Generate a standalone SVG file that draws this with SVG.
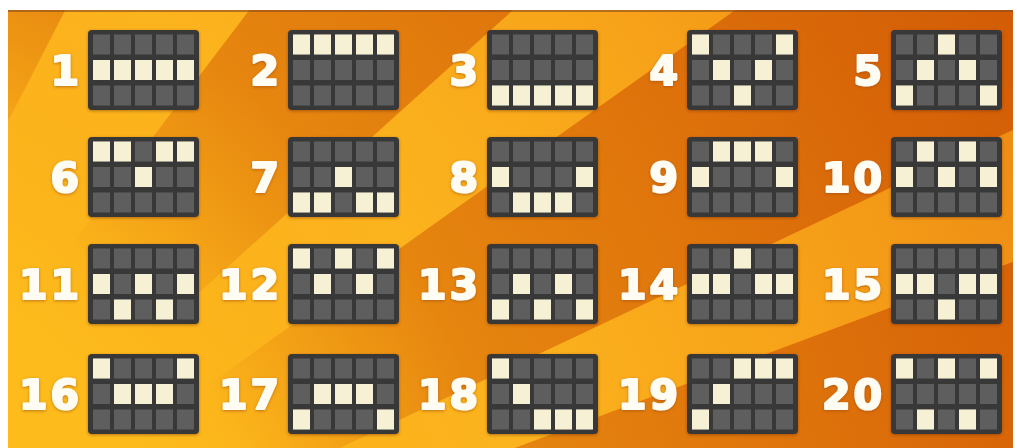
<svg xmlns="http://www.w3.org/2000/svg" xmlns:xlink="http://www.w3.org/1999/xlink" width="1017" height="448" viewBox="0 0 1017 448">
<style>
.frame{fill:#373737}
.off{fill:#5e5e5e}
.on{fill:#f6f1d4}
.num{font-family:"DejaVu Sans","Liberation Sans",sans-serif;font-weight:bold;font-size:41px;fill:#fffdf3;stroke:#fffdf3;stroke-width:2.2px;stroke-linejoin:round;text-anchor:end;letter-spacing:3px;filter:url(#glow)}
</style>
<defs>
<clipPath id="bgclip"><rect x="8" y="10" width="1005" height="438"/></clipPath>
<radialGradient id="base" gradientUnits="userSpaceOnUse" cx="-320" cy="760" r="1600">
<stop offset="0.35" stop-color="#fdbb1c"/>
<stop offset="0.55" stop-color="#f9a617"/>
<stop offset="0.75" stop-color="#f28e12"/>
<stop offset="0.95" stop-color="#e4700c"/>
</radialGradient>
<radialGradient id="darkfade" gradientUnits="userSpaceOnUse" cx="-320" cy="760" r="1600">
<stop offset="0.4" stop-color="#c24a00" stop-opacity="0"/>
<stop offset="0.55" stop-color="#c24a00" stop-opacity="0.35"/>
<stop offset="0.95" stop-color="#c24a00" stop-opacity="0.5"/>
</radialGradient>
<radialGradient id="lightfade" gradientUnits="userSpaceOnUse" cx="-320" cy="760" r="1600">
<stop offset="0.4" stop-color="#ffc425" stop-opacity="0"/>
<stop offset="0.55" stop-color="#ffc425" stop-opacity="0.45"/>
<stop offset="0.95" stop-color="#ffc425" stop-opacity="0.3"/>
</radialGradient>
<filter id="shadow" x="-10%" y="-10%" width="120%" height="125%">
<feDropShadow dx="0" dy="1" stdDeviation="1.5" flood-color="#5a2800" flood-opacity="0.45"/>
</filter>
<filter id="glow" x="-20%" y="-20%" width="140%" height="140%">
<feDropShadow dx="0" dy="1" stdDeviation="1.5" flood-color="#9a4a08" flood-opacity="0.6"/>
</filter>
<g id="grid">
<rect class="frame" x="0" y="0" width="111" height="80" rx="4" filter="url(#shadow)"/>
<rect class="off" x="5" y="4.5" width="17" height="20"/><rect class="off" x="26" y="4.5" width="17" height="20"/><rect class="off" x="47" y="4.5" width="17" height="20"/><rect class="off" x="68" y="4.5" width="17" height="20"/><rect class="off" x="89" y="4.5" width="17" height="20"/>
<rect class="off" x="5" y="30" width="17" height="20"/><rect class="off" x="26" y="30" width="17" height="20"/><rect class="off" x="47" y="30" width="17" height="20"/><rect class="off" x="68" y="30" width="17" height="20"/><rect class="off" x="89" y="30" width="17" height="20"/>
<rect class="off" x="5" y="55.5" width="17" height="20"/><rect class="off" x="26" y="55.5" width="17" height="20"/><rect class="off" x="47" y="55.5" width="17" height="20"/><rect class="off" x="68" y="55.5" width="17" height="20"/><rect class="off" x="89" y="55.5" width="17" height="20"/>
</g>
</defs>
<rect x="0" y="0" width="1017" height="448" fill="#ffffff"/>
<g id="background" clip-path="url(#bgclip)">
<rect x="8" y="10" width="1005" height="438" fill="url(#base)"/>
<polygon points="-320,760 2180,760 2021.7,-115.5" fill="url(#darkfade)"/>
<polygon points="-320,760 2021.7,-115.5 1940.3,-308.5" fill="url(#lightfade)"/>
<polygon points="-320,760 1940.3,-308.5 1717.8,-688.3" fill="url(#darkfade)"/>
<polygon points="-320,760 1717.8,-688.3 1537.8,-912.8" fill="url(#lightfade)"/>
<polygon points="-320,760 1537.8,-912.8 1191.5,-1231.3" fill="url(#darkfade)"/>
<polygon points="-320,760 1191.5,-1231.3 822.8,-1464.3" fill="url(#lightfade)"/>
<polygon points="-320,760 822.8,-1464.3 -320,-1740" fill="url(#darkfade)"/>
<rect x="8" y="10" width="1005" height="2" fill="#8a4a1a" opacity="0.6"/>
</g>
<g id="connectors"/>
<g id="paylines">
<g id="line-1" transform="translate(88,30)"><text class="num" x="-6" y="55">1</text><use href="#grid"/><rect class="on" x="5" y="30" width="17" height="20"/><rect class="on" x="26" y="30" width="17" height="20"/><rect class="on" x="47" y="30" width="17" height="20"/><rect class="on" x="68" y="30" width="17" height="20"/><rect class="on" x="89" y="30" width="17" height="20"/></g>
<g id="line-2" transform="translate(288,30)"><text class="num" x="-6" y="55">2</text><use href="#grid"/><rect class="on" x="5" y="4.5" width="17" height="20"/><rect class="on" x="26" y="4.5" width="17" height="20"/><rect class="on" x="47" y="4.5" width="17" height="20"/><rect class="on" x="68" y="4.5" width="17" height="20"/><rect class="on" x="89" y="4.5" width="17" height="20"/></g>
<g id="line-3" transform="translate(487,30)"><text class="num" x="-6" y="55">3</text><use href="#grid"/><rect class="on" x="5" y="55.5" width="17" height="20"/><rect class="on" x="26" y="55.5" width="17" height="20"/><rect class="on" x="47" y="55.5" width="17" height="20"/><rect class="on" x="68" y="55.5" width="17" height="20"/><rect class="on" x="89" y="55.5" width="17" height="20"/></g>
<g id="line-4" transform="translate(687,30)"><text class="num" x="-6" y="55">4</text><use href="#grid"/><rect class="on" x="5" y="4.5" width="17" height="20"/><rect class="on" x="26" y="30" width="17" height="20"/><rect class="on" x="47" y="55.5" width="17" height="20"/><rect class="on" x="68" y="30" width="17" height="20"/><rect class="on" x="89" y="4.5" width="17" height="20"/></g>
<g id="line-5" transform="translate(891,30)"><text class="num" x="-6" y="55">5</text><use href="#grid"/><rect class="on" x="5" y="55.5" width="17" height="20"/><rect class="on" x="26" y="30" width="17" height="20"/><rect class="on" x="47" y="4.5" width="17" height="20"/><rect class="on" x="68" y="30" width="17" height="20"/><rect class="on" x="89" y="55.5" width="17" height="20"/></g>
<g id="line-6" transform="translate(88,137)"><text class="num" x="-6" y="55">6</text><use href="#grid"/><rect class="on" x="5" y="4.5" width="17" height="20"/><rect class="on" x="26" y="4.5" width="17" height="20"/><rect class="on" x="47" y="30" width="17" height="20"/><rect class="on" x="68" y="4.5" width="17" height="20"/><rect class="on" x="89" y="4.5" width="17" height="20"/></g>
<g id="line-7" transform="translate(288,137)"><text class="num" x="-6" y="55">7</text><use href="#grid"/><rect class="on" x="5" y="55.5" width="17" height="20"/><rect class="on" x="26" y="55.5" width="17" height="20"/><rect class="on" x="47" y="30" width="17" height="20"/><rect class="on" x="68" y="55.5" width="17" height="20"/><rect class="on" x="89" y="55.5" width="17" height="20"/></g>
<g id="line-8" transform="translate(487,137)"><text class="num" x="-6" y="55">8</text><use href="#grid"/><rect class="on" x="5" y="30" width="17" height="20"/><rect class="on" x="26" y="55.5" width="17" height="20"/><rect class="on" x="47" y="55.5" width="17" height="20"/><rect class="on" x="68" y="55.5" width="17" height="20"/><rect class="on" x="89" y="30" width="17" height="20"/></g>
<g id="line-9" transform="translate(687,137)"><text class="num" x="-6" y="55">9</text><use href="#grid"/><rect class="on" x="5" y="30" width="17" height="20"/><rect class="on" x="26" y="4.5" width="17" height="20"/><rect class="on" x="47" y="4.5" width="17" height="20"/><rect class="on" x="68" y="4.5" width="17" height="20"/><rect class="on" x="89" y="30" width="17" height="20"/></g>
<g id="line-10" transform="translate(891,137)"><text class="num" x="-6" y="55">10</text><use href="#grid"/><rect class="on" x="5" y="30" width="17" height="20"/><rect class="on" x="26" y="4.5" width="17" height="20"/><rect class="on" x="47" y="30" width="17" height="20"/><rect class="on" x="68" y="4.5" width="17" height="20"/><rect class="on" x="89" y="30" width="17" height="20"/></g>
<g id="line-11" transform="translate(88,244)"><text class="num" x="-6" y="55">11</text><use href="#grid"/><rect class="on" x="5" y="30" width="17" height="20"/><rect class="on" x="26" y="55.5" width="17" height="20"/><rect class="on" x="47" y="30" width="17" height="20"/><rect class="on" x="68" y="55.5" width="17" height="20"/><rect class="on" x="89" y="30" width="17" height="20"/></g>
<g id="line-12" transform="translate(288,244)"><text class="num" x="-6" y="55">12</text><use href="#grid"/><rect class="on" x="5" y="4.5" width="17" height="20"/><rect class="on" x="26" y="30" width="17" height="20"/><rect class="on" x="47" y="4.5" width="17" height="20"/><rect class="on" x="68" y="30" width="17" height="20"/><rect class="on" x="89" y="4.5" width="17" height="20"/></g>
<g id="line-13" transform="translate(487,244)"><text class="num" x="-6" y="55">13</text><use href="#grid"/><rect class="on" x="5" y="55.5" width="17" height="20"/><rect class="on" x="26" y="30" width="17" height="20"/><rect class="on" x="47" y="55.5" width="17" height="20"/><rect class="on" x="68" y="30" width="17" height="20"/><rect class="on" x="89" y="55.5" width="17" height="20"/></g>
<g id="line-14" transform="translate(687,244)"><text class="num" x="-6" y="55">14</text><use href="#grid"/><rect class="on" x="5" y="30" width="17" height="20"/><rect class="on" x="26" y="30" width="17" height="20"/><rect class="on" x="47" y="4.5" width="17" height="20"/><rect class="on" x="68" y="30" width="17" height="20"/><rect class="on" x="89" y="30" width="17" height="20"/></g>
<g id="line-15" transform="translate(891,244)"><text class="num" x="-6" y="55">15</text><use href="#grid"/><rect class="on" x="5" y="30" width="17" height="20"/><rect class="on" x="26" y="30" width="17" height="20"/><rect class="on" x="47" y="55.5" width="17" height="20"/><rect class="on" x="68" y="30" width="17" height="20"/><rect class="on" x="89" y="30" width="17" height="20"/></g>
<g id="line-16" transform="translate(88,354)"><text class="num" x="-6" y="55">16</text><use href="#grid"/><rect class="on" x="5" y="4.5" width="17" height="20"/><rect class="on" x="26" y="30" width="17" height="20"/><rect class="on" x="47" y="30" width="17" height="20"/><rect class="on" x="68" y="30" width="17" height="20"/><rect class="on" x="89" y="4.5" width="17" height="20"/></g>
<g id="line-17" transform="translate(288,354)"><text class="num" x="-6" y="55">17</text><use href="#grid"/><rect class="on" x="5" y="55.5" width="17" height="20"/><rect class="on" x="26" y="30" width="17" height="20"/><rect class="on" x="47" y="30" width="17" height="20"/><rect class="on" x="68" y="30" width="17" height="20"/><rect class="on" x="89" y="55.5" width="17" height="20"/></g>
<g id="line-18" transform="translate(487,354)"><text class="num" x="-6" y="55">18</text><use href="#grid"/><rect class="on" x="5" y="4.5" width="17" height="20"/><rect class="on" x="26" y="30" width="17" height="20"/><rect class="on" x="47" y="55.5" width="17" height="20"/><rect class="on" x="68" y="55.5" width="17" height="20"/><rect class="on" x="89" y="55.5" width="17" height="20"/></g>
<g id="line-19" transform="translate(687,354)"><text class="num" x="-6" y="55">19</text><use href="#grid"/><rect class="on" x="5" y="55.5" width="17" height="20"/><rect class="on" x="26" y="30" width="17" height="20"/><rect class="on" x="47" y="4.5" width="17" height="20"/><rect class="on" x="68" y="4.5" width="17" height="20"/><rect class="on" x="89" y="4.5" width="17" height="20"/></g>
<g id="line-20" transform="translate(891,354)"><text class="num" x="-6" y="55">20</text><use href="#grid"/><rect class="on" x="5" y="4.5" width="17" height="20"/><rect class="on" x="26" y="55.5" width="17" height="20"/><rect class="on" x="47" y="4.5" width="17" height="20"/><rect class="on" x="68" y="55.5" width="17" height="20"/><rect class="on" x="89" y="4.5" width="17" height="20"/></g>
</g>
</svg>
